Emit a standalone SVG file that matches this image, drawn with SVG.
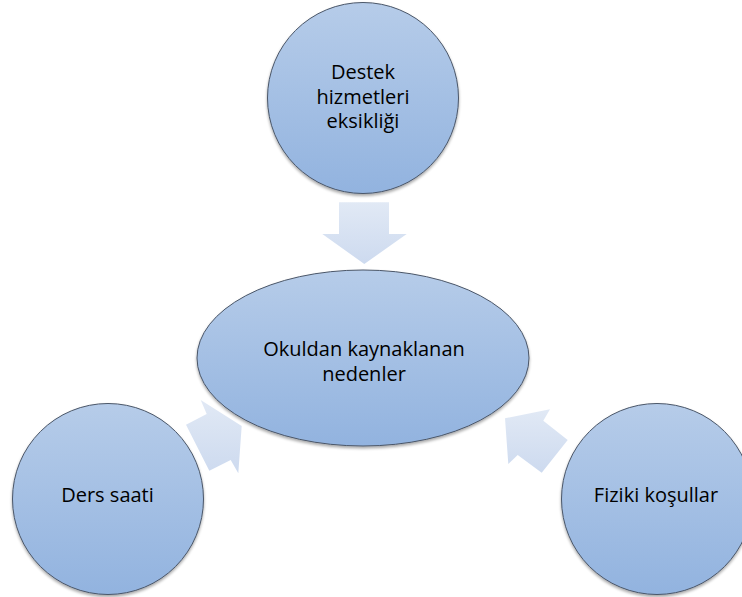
<svg xmlns="http://www.w3.org/2000/svg" width="742" height="597" viewBox="0 0 742 597">
<defs>
<linearGradient id="nodeGrad" x1="0" y1="0" x2="0" y2="1">
<stop offset="0" stop-color="#b6cce9"/>
<stop offset="1" stop-color="#92b3df"/>
</linearGradient>
<linearGradient id="arrowGrad" x1="0" y1="0" x2="0" y2="1">
<stop offset="0" stop-color="#e1e9f5"/>
<stop offset="1" stop-color="#cddaef"/>
</linearGradient>
<filter id="shadow" x="-10%" y="-10%" width="120%" height="125%">
<feGaussianBlur in="SourceAlpha" stdDeviation="1.5"/>
<feOffset dx="0" dy="1.5" result="b"/>
<feComponentTransfer><feFuncA type="linear" slope="0.35"/></feComponentTransfer>
<feMerge><feMergeNode/><feMergeNode in="SourceGraphic"/></feMerge>
</filter>
</defs>
<style>
.node{fill:url(#nodeGrad);stroke:#4a5668;stroke-width:1;filter:url(#shadow)}
.arrow{fill:url(#arrowGrad);stroke:none}
.label{font-family:"Open Sans","Noto Sans","Liberation Sans",sans-serif;font-size:20px;fill:#000;text-anchor:middle}
</style>
<rect width="742" height="597" fill="#ffffff"/>
<g id="connectors">
<polygon class="arrow" points="339,202.3 389,202.3 389,234 406.7,234 364.3,264 322.3,234 339,234"/>
<polygon class="arrow" points="186,424.7 206.7,414 200.7,400 241.7,426 238.3,473.3 230.7,460 209.3,470.7"/>
<polygon class="arrow" points="567.7,440 543.3,420.7 550,409.3 505,418.3 508.3,464 517.7,455 541.7,472.7"/>
</g>
<g id="node-top">
<circle class="node" cx="363" cy="98" r="95.5"/>
<text class="label" x="363" y="79">Destek</text>
<text class="label" x="363" y="103.5">hizmetleri</text>
<text class="label" x="363" y="128">eksikliği</text>
</g>
<g id="node-center">
<ellipse class="node" cx="363" cy="358" rx="166" ry="88"/>
<text class="label" x="364" y="355.7">Okuldan kaynaklanan</text>
<text class="label" x="364" y="380.7">nedenler</text>
</g>
<g id="node-left">
<circle class="node" cx="108" cy="499" r="95.5"/>
<text class="label" x="107.5" y="501.7">Ders saati</text>
</g>
<g id="node-right">
<circle class="node" cx="657" cy="499" r="95.5"/>
<text class="label" x="656" y="501.7">Fiziki koşullar</text>
</g>
</svg>
